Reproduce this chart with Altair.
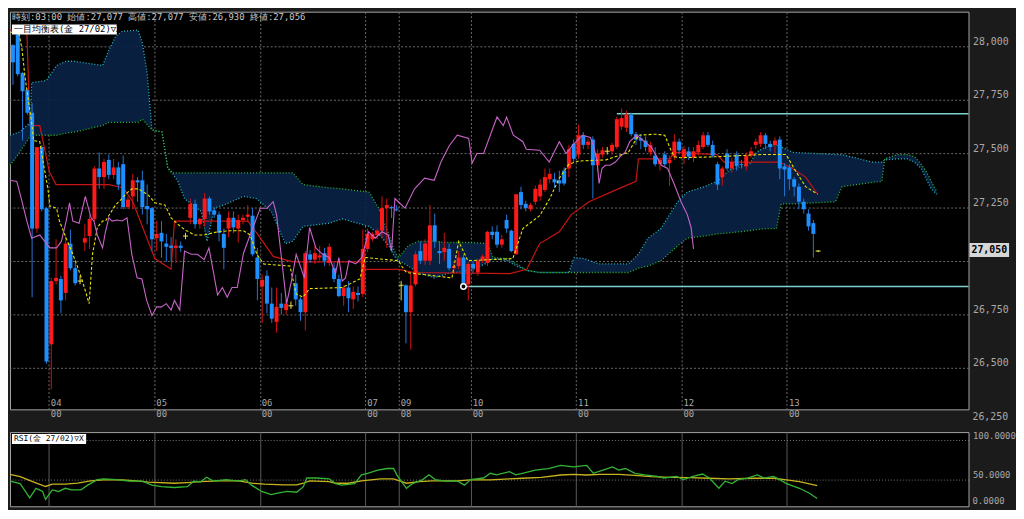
import altair as alt
import pandas as pd

# ---------------- candles: hourly bars, index 0..168 ----------------
opens = [28005, 28055, 27875, 27795, 27690, 27150, 27530, 27245, 26610, 26905,
         26915, 26850, 27080, 26965, 26905, 27085, 27115, 27195, 27430, 27390,
         27470, 27400, 27435, 27450, 27250, 27300, 27375, 27375, 27255, 27245,
         27105, 27130, 27080, 27070, 27060, 27070, 27115, 27200, 27265, 27170,
         27195, 27290, 27235, 27215, 27125, 27150, 27200, 27150, 27190, 27205,
         27210, 27015, 26880, 26930, 26800, 26715, 26800, 26770, 26790, 26895,
         26820, 26760, 27030, 27005, 27015, 27035, 26990, 26965, 26915, 26835,
         26875, 26820, 26850, 26845, 27055, 27100, 27120, 27140, 27245, 27250,
         27240, 26885, 26885, 26760, 26890, 27045, 27000, 27000, 27165, 27045,
         27040, 27055, 26965, 26975, 27015, 26890, 26985, 26945, 27000, 26990,
         27135, 27135, 27075, 27190, 27140, 27030, 27320, 27265, 27240, 27275,
         27300, 27330, 27380, 27380, 27375, 27420, 27430, 27545, 27495, 27585,
         27540, 27565, 27445, 27495, 27510, 27510, 27530, 27625, 27620, 27680,
         27590, 27570, 27560, 27505, 27490, 27450, 27495, 27455, 27485, 27555,
         27480, 27510, 27480, 27505, 27530, 27585, 27540, 27450, 27390, 27500,
         27430, 27495, 27450, 27440, 27490, 27540, 27545, 27585, 27545, 27540,
         27565, 27440, 27435, 27380, 27345, 27275, 27220, 27175, 27045]
highs = [28010, 28065, 27880, 27800, 27735, 27530, 27540, 27250, 26920, 27100,
         26930, 27115, 27145, 26990, 26930, 27170, 27215, 27440, 27505, 27475,
         27495, 27475, 27460, 27490, 27300, 27405, 27390, 27420, 27355, 27250,
         27185, 27185, 27125, 27110, 27100, 27090, 27130, 27290, 27285, 27200,
         27315, 27300, 27250, 27230, 27150, 27230, 27230, 27215, 27215, 27260,
         27245, 27060, 26935, 26955, 26875, 26875, 26850, 26815, 26810, 26935,
         26830, 27045, 27050, 27070, 27070, 27060, 27080, 26990, 26935, 26885,
         26905, 26880, 26880, 27145, 27150, 27135, 27150, 27300, 27290, 27255,
         27260, 26905, 26890, 26945, 27045, 27090, 27100, 27260, 27220, 27090,
         27130, 27080, 27000, 27045, 27030, 26995, 27000, 27010, 27030, 27140,
         27160, 27165, 27120, 27215, 27145, 27310, 27345, 27280, 27270, 27350,
         27380, 27430, 27430, 27410, 27420, 27435, 27540, 27565, 27635, 27600,
         27570, 27580, 27520, 27530, 27530, 27550, 27670, 27710, 27700, 27690,
         27600, 27590, 27580, 27555, 27530, 27480, 27510, 27490, 27590, 27570,
         27535, 27530, 27530, 27560, 27600, 27600, 27560, 27460, 27440, 27520,
         27480, 27510, 27470, 27505, 27530, 27570, 27600, 27595, 27560, 27575,
         27580, 27455, 27450, 27390, 27360, 27290, 27240, 27190, 27050]
lows = [27820, 27860, 27560, 27680, 26830, 27130, 27230, 26520, 26400, 26890,
        26755, 26815, 26955, 26885, 26890, 27045, 27055, 27185, 27335, 27335,
        27380, 27380, 27330, 27240, 27240, 27240, 27275, 27215, 27170, 27045,
        27045, 27015, 26995, 26995, 26990, 27040, 27100, 27170, 27150, 27150,
        27160, 27215, 27200, 27090, 26960, 27110, 27130, 27085, 27170, 27180,
        27020, 26815, 26710, 26755, 26710, 26665, 26750, 26750, 26775, 26790,
        26720, 26675, 26990, 26985, 27000, 26975, 26975, 26900, 26830, 26790,
        26760, 26775, 26810, 26830, 27040, 27090, 27100, 27105, 27060, 27200,
        27230, 26815, 26615, 26585, 26880, 26985, 26980, 26980, 27060, 26985,
        27000, 26955, 26940, 26960, 26880, 26815, 26940, 26930, 26990, 26975,
        27100, 27060, 27060, 27130, 27040, 27030, 27240, 27230, 27230, 27260,
        27280, 27320, 27360, 27340, 27320, 27350, 27390, 27460, 27475, 27520,
        27520, 27290, 27415, 27480, 27495, 27495, 27520, 27610, 27600, 27580,
        27540, 27520, 27510, 27490, 27440, 27420, 27440, 27350, 27470, 27500,
        27450, 27470, 27460, 27490, 27520, 27530, 27480, 27330, 27350, 27420,
        27410, 27420, 27430, 27420, 27480, 27520, 27530, 27520, 27510, 27500,
        27380, 27300, 27330, 27300, 27240, 27220, 27140, 27015, 27040]
closes = [27925, 27870, 27790, 27690, 27150, 27530, 27240, 26530, 26905, 26920,
          26815, 27080, 26965, 26895, 26905, 27105, 27195, 27430, 27390, 27460,
          27400, 27435, 27355, 27250, 27285, 27375, 27365, 27250, 27240, 27100,
          27125, 27090, 27065, 27060, 27070, 27060, 27115, 27265, 27170, 27195,
          27290, 27230, 27215, 27130, 27060, 27200, 27155, 27190, 27200, 27215,
          27030, 26915, 26910, 26800, 26730, 26785, 26780, 26800, 26790, 26820,
          26760, 27035, 27005, 27035, 27025, 27000, 27065, 26915, 26835, 26875,
          26825, 26855, 26840, 27055, 27125, 27125, 27140, 27245, 27260, 27245,
          27235, 26885, 26760, 26885, 27030, 27000, 27080, 27165, 27090, 27035,
          27060, 26965, 26975, 27015, 26895, 26985, 26965, 27000, 27020, 27135,
          27120, 27075, 27100, 27150, 27045, 27310, 27260, 27245, 27260, 27335,
          27355, 27390, 27405, 27365, 27360, 27360, 27520, 27475, 27585, 27540,
          27555, 27445, 27500, 27515, 27510, 27540, 27660, 27665, 27680, 27590,
          27565, 27560, 27530, 27540, 27450, 27470, 27450, 27470, 27555, 27515,
          27520, 27485, 27510, 27540, 27585, 27540, 27490, 27355, 27430, 27430,
          27460, 27440, 27445, 27490, 27510, 27555, 27585, 27545, 27530, 27560,
          27430, 27425, 27380, 27345, 27275, 27240, 27160, 27125, 27045]

# ---------------- Ichimoku lines (bar index, price) ----------------
tenkan_k = [-0.6, 1.2, 1.9, 2.5, 3.2, 3.9, 4.3, 5.6, 6.3, 7.3, 7.7, 9.1, 9.7, 11.1, 12.5, 13.5,
            14.5, 15.9, 16.6, 17.6, 18.7, 19.3, 21.4, 22.8, 23.5, 24.8, 26.2, 28.3, 29.6, 31.7,
            33.0, 34.4, 35.8, 37.9, 39.9, 42.7, 45.4, 48.1, 49.5, 50.9, 52.3, 57.8, 59.1, 60.5,
            61.9, 68.7, 72.4, 73.5, 80.5, 81.1, 82.1, 91.6, 93.0, 94.9, 104.3, 106.4, 109.9,
            112.0, 114.0, 116.0, 118.1, 123.7, 125.7, 128.4, 130.5, 134.0, 136.0, 137.2, 138.0,
            139.3, 146.9, 156.2, 161.3, 163.4, 165.4, 167.9]
tenkan_v = [28065, 28065, 27985, 27860, 27750, 27645, 27560, 27555, 27460, 27335, 27255, 27245,
            27185, 27105, 27030, 26970, 26905, 26800, 27030, 27155, 27185, 27185, 27260, 27290,
            27310, 27335, 27335, 27305, 27270, 27260, 27200, 27170, 27145, 27120, 27120, 27135,
            27140, 27140, 27120, 27030, 26985, 26975, 26845, 26830, 26870, 26875, 26915, 27015,
            27000, 26975, 26945, 26920, 27090, 27000, 27010, 27150, 27210, 27290, 27385, 27450,
            27465, 27470, 27485, 27505, 27585, 27590, 27585, 27520, 27485, 27480, 27485, 27495,
            27495, 27415, 27345, 27310]

kijun_k = [-0.6, 2.9, 3.5, 5.6, 7.6, 9.0, 20.0, 23.0, 25.0, 29.6, 33.0, 33.7, 49.0, 51.0, 54.3,
           58.4, 72.8, 73.5, 80.5, 83.7, 103.7, 107.2, 109.9, 114.0, 116.5, 120.2, 126.3, 130.0,
           130.5, 137.2, 137.7, 146.9, 148.4, 159.9, 162.3, 165.4, 167.9]
kijun_v = [28075, 28075, 27630, 27630, 27415, 27355, 27355, 27340, 27275, 27010, 26960, 27185,
           27185, 27125, 27020, 26995, 26995, 26960, 26960, 26945, 26940, 26960, 27080, 27135,
           27215, 27275, 27335, 27370, 27475, 27475, 27505, 27495, 27460, 27460, 27435, 27390,
           27310]

chikou_k = [-0.6, 0.8, 1.9, 2.9, 3.9, 5.6, 7.7, 9.1, 10.1, 11.1, 11.8, 12.5, 13.8, 15.1, 16.3,
            16.9, 17.6, 18.7, 19.3, 20.0, 20.7, 21.7, 22.8, 23.8, 24.8, 25.9, 26.9, 27.9, 29.0,
            30.0, 31.0, 32.0, 33.0, 33.7, 34.8, 35.8, 37.2, 38.5, 39.9, 40.9, 42.7, 43.7, 44.7,
            45.7, 46.8, 48.1, 49.5, 50.6, 51.6, 53.0, 54.3, 55.0, 56.4, 57.1, 58.1, 59.1, 60.8,
            61.9, 63.2, 64.6, 66.0, 67.3, 68.0, 68.7, 69.4, 70.1, 71.5, 72.8, 74.2, 75.6, 77.0,
            78.3, 79.0, 79.7, 80.4, 81.8, 83.8, 85.9, 87.9, 89.3, 91.0, 92.7, 95.1, 95.8, 96.8,
            98.2, 101.0, 102.3, 103.0, 104.4, 106.4, 107.1, 109.9, 111.9, 114.0, 115.4, 116.7,
            118.8, 120.5, 121.2, 121.9, 122.3, 122.9, 123.6, 124.6, 125.7, 126.7, 127.7, 128.7,
            130.1, 131.8, 133.2, 135.3, 136.6, 138.0, 139.4, 140.7, 141.5, 142.0]
chikou_v = [27375, 27370, 27275, 27185, 27105, 27120, 27060, 27060, 27090, 27185, 27270, 27185,
            27175, 27300, 27200, 27185, 27120, 27060, 27135, 27200, 27185, 27190, 27185, 27200,
            27030, 26920, 26915, 26815, 26745, 26785, 26785, 26800, 26770, 26815, 26770, 27045,
            27030, 27030, 27005, 27060, 26840, 26875, 26830, 26875, 26875, 27035, 27120, 27185,
            27245, 27245, 27275, 27215, 26940, 26800, 26905, 27030, 26920, 27155, 27060, 27030,
            27015, 26940, 27015, 26905, 26920, 27000, 26985, 27015, 27135, 27105, 27135, 27120,
            27045, 27290, 27275, 27245, 27335, 27385, 27375, 27460, 27535, 27585, 27570, 27455,
            27500, 27500, 27670, 27630, 27670, 27585, 27555, 27520, 27515, 27460, 27555, 27500,
            27535, 27585, 27575, 27530, 27460, 27360, 27430, 27445, 27445, 27460, 27485, 27505,
            27555, 27585, 27555, 27530, 27445, 27430, 27355, 27275, 27215, 27155, 27055]

# cloud: leading span A / leading span B read at the same bar positions
cloud_k = [-0.6, 1.4, 3.7, 3.9, 7.0, 9.1, 11.1, 12.8, 18.7, 20.0, 21.4, 22.8, 26.1, 27.0, 28.0,
           29.0, 31.1, 32.3, 33.1, 34.4, 35.8, 37.2, 39.3, 40.5, 42.0, 44.0, 48.1, 50.8, 53.9,
           56.8, 58.4, 60.5, 66.0, 68.7, 74.3, 76.3, 78.4, 79.6, 80.5, 82.5, 84.6, 87.9, 90.7,
           95.5, 99.0, 100.2, 103.1, 105.1, 107.2, 109.9, 116.0, 117.1, 119.1, 122.2, 128.4,
           130.5, 132.5, 135.2, 138.7, 140.7, 144.2, 146.9, 149.6, 153.7, 155.1, 157.8, 159.3,
           160.3, 162.8, 171.6, 173.0, 179.2, 181.3, 181.9, 184.6, 186.6, 188.1, 189.5, 190.7,
           191.6, 192.8]
span_a = [27585, 27600, 27645, 27830, 27840, 27910, 27930, 27930, 27910, 27980, 28045, 28070,
          28075, 28015, 27875, 27610, 27600, 27435, 27415, 27370, 27290, 27265, 27230, 27090,
          27245, 27260, 27300, 27290, 27230, 27080, 27090, 27160, 27175, 27195, 27160, 27125,
          27070, 27020, 27000, 26975, 26945, 26920, 26940, 26955, 26990, 27010, 27000, 26975,
          26955, 26945, 26945, 27015, 27010, 26985, 26985, 27030, 27105, 27150, 27275, 27320,
          27345, 27370, 27425, 27450, 27505, 27540, 27540, 27530, 27505, 27495, 27495, 27460,
          27460, 27470, 27475, 27475, 27460, 27430, 27375, 27335, 27310]
span_b = [27445, 27505, 27585, 27585, 27585, 27585, 27595, 27600, 27630, 27645, 27645, 27645,
          27645, 27660, 27635, 27610, 27600, 27430, 27410, 27410, 27410, 27410, 27410, 27410,
          27410, 27410, 27410, 27410, 27410, 27410, 27410, 27355, 27340, 27335, 27320, 27245,
          27125, 27045, 27015, 27070, 27090, 27090, 27085, 27085, 27080, 27015, 27010, 26985,
          26955, 26945, 26945, 26945, 26945, 26945, 26945, 26965, 26975, 27000, 27070, 27105,
          27115, 27125, 27130, 27140, 27145, 27150, 27150, 27265, 27265, 27275, 27345, 27365,
          27370, 27475, 27495, 27495, 27485, 27450, 27410, 27370, 27320]

# reference levels (recent high / low) and last price
level_start = [126, 94]
level_price = [27685, 26880]
low_mark_k = [94]
low_mark_p = [26880]
last_price = 27050

# ---------------- RSI panel ----------------
rsi_k = [-0.6, 1.5, 3.5, 4.8, 6.2, 6.8, 8.2, 9.5, 10.9, 12.2, 14.2, 15.6, 17.6, 18.9, 21.6, 24.3,
         27, 29, 31, 33.7, 36.4, 37.7, 39.1, 40.4, 41.8, 44.5, 47.1, 48.5, 49.8, 51.9, 53.9,
         55.2, 57.2, 59.2, 60.6, 61.3, 63.3, 66, 67.3, 68.6, 71.3, 72.7, 74, 76.1, 78.1, 79.4,
         80.1, 81, 82.1, 83.4, 85.5, 86.8, 88.1, 90.2, 92.8, 94.2, 95.5, 98.2, 99.6, 100.9,
         103.6, 104.9, 106.3, 109, 111.7, 114.3, 117, 119.7, 121.1, 123.1, 125.1, 126.4, 127.8,
         129.8, 131.8, 134.5, 135.8, 138.5, 139.9, 141.9, 143.9, 145.3, 147.3, 148.6, 150,
         151.3, 153.3, 155.3, 156.7, 158.7, 160, 161.4, 164.1, 166.1, 167.8]
rsi_v = [48, 45, 27, 39, 35, 25, 37, 35, 39, 37, 37, 43, 50, 51, 50, 48, 48, 43, 41, 40, 41, 48,
         47, 53, 48, 50, 48, 50, 43, 35, 31, 33, 35, 34, 41, 52, 52, 51, 45, 43, 45, 56, 58, 62,
         64, 64, 56, 48, 39, 45, 50, 56, 50, 48, 48, 43, 50, 52, 58, 56, 60, 56, 58, 62, 64, 68,
         66, 68, 58, 62, 66, 62, 64, 58, 56, 54, 52, 54, 50, 54, 57, 52, 39, 48, 45, 50, 52, 56,
         52, 54, 50, 45, 39, 33, 26]
sig_k = [-0.6, 1.5, 4.1, 6.8, 8.2, 10.9, 13.5, 16.2, 18.9, 22.9, 25.6, 28.3, 33.7, 36.4, 39.1,
         43.1, 47.1, 49.8, 52.5, 56.6, 59.2, 60.6, 61.9, 66, 67.3, 70, 72.7, 76.7, 79.4, 80.7,
         82.1, 84.8, 87.5, 92.8, 95.5, 99.6, 103.6, 106.3, 110.3, 114.3, 117, 119.7, 122.4,
         126.4, 130.5, 133.2, 137.2, 141.2, 145.3, 149.3, 154.7, 158.7, 161.4, 164.1, 167.8]
sig_v = [56.7, 53.8, 47.5, 41.3, 44.2, 44.2, 45.4, 48.3, 49.6, 49.6, 48.3, 46.7, 45.4, 46.3,
         47.5, 48.3, 48.3, 45.4, 44.2, 43.3, 43.3, 45.4, 48.3, 47.5, 45.4, 45.4, 48.3, 50.8,
         50.8, 48.3, 45.4, 47.5, 48.3, 48.3, 49.6, 49.6, 50.8, 51.7, 52.9, 55.8, 56.7, 55.8,
         56.7, 56.7, 55.0, 53.8, 52.9, 52.5, 51.7, 50.8, 51.7, 51.7, 49.6, 47.5, 42.5]

# ---------------- time axis ----------------
day_starts = [7.5, 29.5, 51.5, 73.5, 80.5, 95.5, 117.5, 139.5, 161.5]
day_labels = ["04", "05", "06", "07", "09", "10", "11", "12", "13"]
hour_labels = ["00", "00", "00", "00", "08", "00", "00", "00", "00"]
price_ticks = [26500, 26750, 27000, 27250, 27500, 27750, 28000]
rsi_ticks = [50, 100]

header = "時刻:03:00 始値:27,077 高値:27,077 安値:26,930 終値:27,056"
ichimoku_title = "一目均衡表(金 27/02)▽X"
rsi_title = "RSI(金 27/02)▽X"

# ---------------- chart ----------------
W, H, H2 = 969, 402, 75
XMIN, XMAX = -0.62, 199.38
MONO = "DejaVu Sans Mono"
LBL = "#a9a9a9"

xs = alt.Scale(domain=[XMIN, XMAX], nice=False, zero=False, padding=0)
ys = alt.Scale(domain=[26307, 28161], nice=False, zero=False, padding=0)
rs = alt.Scale(domain=[16.25, 110], nice=False, zero=False, padding=0)

xaxis = alt.Axis(values=day_starts, labels=False, ticks=False, domain=False, grid=True,
                 gridColor="#6c6c6c", gridDash=[2, 2], title=None)
yaxis = alt.Axis(orient="right", values=price_ticks, format=",.0f", labelBaseline="bottom",
                 labelExpr="datum.value == %d ? '' : datum.label" % 27000,
                 labelPadding=4, labelColor=LBL, labelFont=MONO, labelFontSize=10,
                 ticks=False, domain=False, grid=True, gridColor="#6c6c6c", gridDash=[2, 2],
                 title=None)
xaxis2 = alt.Axis(values=day_starts, labels=False, ticks=False, domain=False, grid=True,
                  gridColor="#5a5a5a", title=None)
raxis = alt.Axis(orient="right", values=rsi_ticks, format=".4f", labelBaseline="bottom",
                 labelPadding=4, labelColor=LBL, labelFont=MONO, labelFontSize=9,
                 ticks=False, domain=False, grid=True, gridColor="#7a7a7a", gridDash=[1, 2],
                 title=None)


def X(f):
    return alt.X(f, type="quantitative", scale=xs, axis=xaxis)


def Y(f):
    return alt.Y(f, type="quantitative", scale=ys, axis=yaxis)


candles = pd.DataFrame({"k": list(range(len(opens))), "o": opens, "h": highs,
                        "l": lows, "c": closes})
cloud_df = pd.DataFrame({"k": cloud_k, "a": span_a, "b": span_b})
tenkan_df = pd.DataFrame({"k": tenkan_k, "v": tenkan_v})
kijun_df = pd.DataFrame({"k": kijun_k, "v": kijun_v})
chikou_df = pd.DataFrame({"k": chikou_k, "v": chikou_v})
levels_df = pd.DataFrame({"k0": level_start, "p": level_price})
lowmark_df = pd.DataFrame({"k": low_mark_k, "p": low_mark_p})
days_df = pd.DataFrame({"k": day_starts, "d": day_labels, "h": hour_labels})
rsi_df = pd.DataFrame({"k": rsi_k, "v": rsi_v})
sig_df = pd.DataFrame({"k": sig_k, "v": sig_v})
one = pd.DataFrame({"t": [0]})

cloud = alt.Chart(cloud_df).mark_area(color="#0a2244", opacity=0.92).encode(
    x=X("k"), y=Y("a"), y2="b")
span_a_line = alt.Chart(cloud_df).mark_line(color="#27bcc4", strokeDash=[1, 2],
                                            strokeWidth=1.3).encode(x=X("k"), y=Y("a"))
span_b_line = alt.Chart(cloud_df).mark_line(color="#2db82d", strokeDash=[1, 2],
                                            strokeWidth=1.3).encode(x=X("k"), y=Y("b"))
levels = alt.Chart(levels_df).transform_calculate(k1=str(XMAX)).mark_rule(
    color="#7fd0d0", strokeWidth=1.5).encode(x=X("k0"), x2="k1:Q", y=Y("p"))
kijun = alt.Chart(kijun_df).mark_line(color="#c81414", strokeWidth=1.2).encode(
    x=X("k"), y=Y("v"))

col_expr = ("datum.c > datum.o ? '{u}' : (datum.c < datum.o ? '{d}' : '{f}')")
wicks = alt.Chart(candles).transform_calculate(
    col=col_expr.format(u="#d41010", d="#2476d6", f="#e0e050")
).mark_rule(strokeWidth=1).encode(x=X("k"), y=Y("l"), y2="h",
                                   color=alt.Color("col:N", scale=None))
bodies = alt.Chart(candles).transform_calculate(
    col=col_expr.format(u="#ff1a1a", d="#1e8fff", f="#e8e850")
).mark_bar(size=4).encode(x=X("k"), y=Y("o"), y2="c",
                          color=alt.Color("col:N", scale=None))
doji = alt.Chart(candles).transform_filter("datum.o == datum.c").mark_tick(
    orient="horizontal", size=5, thickness=1.5, color="#e8e850").encode(x=X("k"), y=Y("o"))
tenkan = alt.Chart(tenkan_df).mark_line(color="#e6e600", strokeDash=[3, 2],
                                        strokeWidth=1.1).encode(x=X("k"), y=Y("v"))
chikou = alt.Chart(chikou_df).mark_line(color="#c864c8", strokeWidth=1.1).encode(
    x=X("k"), y=Y("v"))
lowmark = alt.Chart(lowmark_df).mark_point(shape="circle", size=30, fill="black",
                                           stroke="white", strokeWidth=1.5,
                                           fillOpacity=1, opacity=1).encode(x=X("k"), y=Y("p"))

day_txt = alt.Chart(days_df).mark_text(align="left", baseline="bottom", dx=2, font=MONO,
                                       fontSize=9, color=LBL).encode(
    x=X("k"), y=alt.value(H - 1), text="d:N")
hour_txt = alt.Chart(days_df).mark_text(align="left", baseline="top", dx=2, font=MONO,
                                        fontSize=9, color=LBL).encode(
    x=X("k"), y=alt.value(H + 1), text="h:N")
low_lbl = alt.Chart(pd.DataFrame({"p": [26250]})).transform_calculate(
    t="format(datum.p, ',.0f')").mark_text(align="left", baseline="bottom", font=MONO,
                                           fontSize=10, color=LBL).encode(
    x=alt.value(W + 4), y=Y("p"), text="t:N")

head_txt = alt.Chart(one).mark_text(align="left", baseline="top", font=MONO, fontSize=9,
                                    color="#c8c8c8").encode(
    x=alt.value(2), y=alt.value(1), text=alt.value(header))
ind_box = alt.Chart(one).mark_rect(color="white").encode(
    x=alt.value(2), x2=alt.value(108), y=alt.value(13), y2=alt.value(23))
ind_txt = alt.Chart(one).mark_text(align="left", baseline="middle", font=MONO, fontSize=9,
                                   color="black").encode(
    x=alt.value(4), y=alt.value(18), text=alt.value(ichimoku_title))

tag_box = alt.Chart(pd.DataFrame({"p": [last_price]})).mark_tick(
    orient="horizontal", size=40, thickness=14, color="#d6d6d6", opacity=1).encode(
    x=alt.value(W + 21), y=Y("p"))
tag_txt = alt.Chart(pd.DataFrame({"p": [last_price]})).transform_calculate(
    t="format(datum.p, ',.0f')").mark_text(align="center", baseline="middle", font=MONO,
                                           fontSize=10, fontWeight="bold",
                                           color="black").encode(
    x=alt.value(W + 21), y=Y("p"), text="t:N")

main = alt.layer(cloud, span_a_line, span_b_line, levels, kijun, wicks, bodies, doji,
                 tenkan, chikou, lowmark, day_txt, hour_txt, low_lbl, head_txt, ind_box,
                 ind_txt, tag_box, tag_txt).properties(width=W, height=H)

rsi_line = alt.Chart(rsi_df).mark_line(color="#34b434", strokeWidth=1.3).encode(
    x=alt.X("k:Q", scale=xs, axis=xaxis2), y=alt.Y("v:Q", scale=rs, axis=raxis))
sig_line = alt.Chart(sig_df).mark_line(color="#c8b41e", strokeWidth=1.3).encode(
    x=alt.X("k:Q", scale=xs, axis=xaxis2), y=alt.Y("v:Q", scale=rs, axis=raxis))
rsi_box = alt.Chart(one).mark_rect(color="white").encode(
    x=alt.value(2), x2=alt.value(77), y=alt.value(2), y2=alt.value(12))
rsi_txt = alt.Chart(one).mark_text(align="left", baseline="middle", font=MONO, fontSize=8,
                                   color="black").encode(
    x=alt.value(4), y=alt.value(7), text=alt.value(rsi_title))
zero_txt = alt.Chart(one).mark_text(align="left", baseline="bottom", font=MONO, fontSize=9,
                                    color=LBL).encode(
    x=alt.value(W + 4), y=alt.value(H2), text=alt.value("0.0000"))

rsi = alt.layer(sig_line, rsi_line, rsi_box, rsi_txt, zero_txt).properties(width=W, height=H2)

chart = alt.vconcat(main, rsi, spacing=8).properties(
    background="#1b1b1b",
    padding={"left": -2, "top": 0, "right": 0, "bottom": 0},
).configure_view(fill="black", stroke="#a5a5a5", strokeWidth=1)

chart.save("out.html", embed_options={"renderer": "svg", "actions": False})
